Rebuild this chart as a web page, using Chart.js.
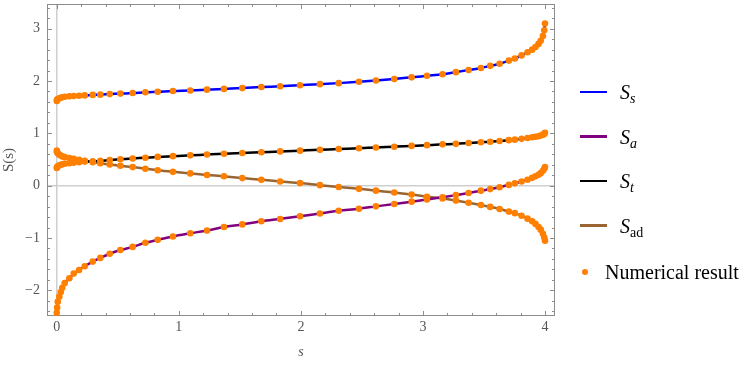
<!DOCTYPE html>
<html>
<head>
<meta charset="utf-8">
<script src="https://cdn.jsdelivr.net/npm/chart.js"></script>
<style>
  body { margin: 0; background: #fff; }
  #wrap { position: relative; width: 747px; height: 365px; }
  #legend { position: absolute; left: 0; top: 0; font-family: 'Liberation Serif', 'Times New Roman', serif; color: #000; }
  .row { position: absolute; left: 580px; height: 24px; display: flex; align-items: center; white-space: nowrap; }
  .swatch { display: inline-block; width: 27px; height: 2.5px; margin-right: 13px; }
  .dot { display: inline-block; width: 6px; height: 6px; border-radius: 50%; background: #ff8000; margin-left: 2px; margin-right: 17px; }
  .lbl { font-size: 20px; line-height: 24px; }
  .lbl sub { font-size: 14px; vertical-align: -4px; line-height: 0; }
</style>
</head>
<body>
<div id="wrap">
  <canvas id="myChart" width="747" height="365"></canvas>
  <div id="legend"></div>
</div>

<script>
    // grid of s values where the numerical results were evaluated
    const sGrid = [0, 0.003, 0.008, 0.021, 0.033, 0.045, 0.065, 0.103, 0.139, 0.183,
        0.229, 0.295, 0.357, 0.434, 0.521, 0.622, 0.726, 0.827, 0.952, 1.094,
        1.231, 1.37, 1.52, 1.676, 1.83, 1.993, 2.156, 2.31, 2.476, 2.615,
        2.765, 2.907, 3.033, 3.161, 3.27, 3.374, 3.475, 3.551, 3.628, 3.704,
        3.753, 3.808, 3.857, 3.895, 3.922, 3.947, 3.965, 3.983, 3.994, 4.0];

    // S_s (blue)
    const sS = [1.62, 1.64, 1.655, 1.67, 1.68, 1.69, 1.70, 1.71, 1.715, 1.72,
        1.725, 1.735, 1.74, 1.75, 1.76, 1.77, 1.785, 1.795, 1.81, 1.82,
        1.835, 1.85, 1.865, 1.885, 1.90, 1.92, 1.94, 1.96, 1.985, 2.01,
        2.04, 2.07, 2.10, 2.13, 2.17, 2.21, 2.25, 2.29, 2.33, 2.39,
        2.43, 2.49, 2.55, 2.60, 2.65, 2.71, 2.77, 2.86, 2.97, 3.10];

    // S_a (purple)
    const sA = [-2.43, -2.33, -2.22, -2.12, -2.03, -1.95, -1.86, -1.77, -1.68, -1.61,
        -1.54, -1.45, -1.38, -1.30, -1.23, -1.17, -1.09, -1.035, -0.97, -0.91,
        -0.855, -0.79, -0.74, -0.68, -0.635, -0.585, -0.53, -0.48, -0.44, -0.395,
        -0.35, -0.305, -0.265, -0.22, -0.18, -0.14, -0.095, -0.065, -0.03, 0.015,
        0.045, 0.08, 0.115, 0.15, 0.18, 0.21, 0.24, 0.285, 0.325, 0.355];

    // S_t (black)
    const sT = [0.34, 0.355, 0.37, 0.39, 0.40, 0.41, 0.42, 0.43, 0.44, 0.45,
        0.46, 0.465, 0.475, 0.49, 0.505, 0.52, 0.535, 0.55, 0.565, 0.58,
        0.595, 0.61, 0.625, 0.64, 0.655, 0.67, 0.685, 0.70, 0.715, 0.73,
        0.745, 0.76, 0.775, 0.79, 0.80, 0.815, 0.83, 0.84, 0.855, 0.87,
        0.88, 0.895, 0.91, 0.925, 0.935, 0.945, 0.96, 0.975, 0.99, 1.01];

    // S_ad (brown)
    const sAd = [0.67, 0.64, 0.62, 0.59, 0.575, 0.56, 0.545, 0.53, 0.515, 0.495,
        0.475, 0.45, 0.43, 0.405, 0.38, 0.355, 0.325, 0.295, 0.265, 0.235,
        0.205, 0.18, 0.145, 0.115, 0.08, 0.05, 0.01, -0.025, -0.06, -0.095,
        -0.13, -0.17, -0.21, -0.245, -0.285, -0.325, -0.37, -0.405, -0.445, -0.495,
        -0.525, -0.575, -0.63, -0.68, -0.73, -0.79, -0.84, -0.92, -0.99, -1.05];

    const xTickLabels = [0, 1, 2, 3, 4];
    const yTickLabels = [-2, -1, 0, 1, 2, 3];

    const curves = [
        { name: 'S', sub: 's', subItalic: true, color: '#0000ff', values: sS },
        { name: 'S', sub: 'a', subItalic: true, color: '#800080', values: sA },
        { name: 'S', sub: 't', subItalic: true, color: '#000000', values: sT },
        { name: 'S', sub: 'ad', subItalic: false, color: '#996633', values: sAd }
    ];

    const toPoints = ys => sGrid.map((x, i) => ({ x: x, y: ys[i] }));

    const datasets = curves.map(c => ({
        type: 'line',
        label: c.name + '_' + c.sub,
        data: toPoints(c.values),
        borderColor: c.color,
        borderWidth: 2.5,
        pointRadius: 0,
        fill: false,
        cubicInterpolationMode: 'monotone',
        order: 1
    }));

    // all numerical points in one dataset, drawn on top
    datasets.push({
        type: 'scatter',
        label: 'Numerical result',
        data: [].concat(...curves.map(c => toPoints(c.values))),
        backgroundColor: '#ff8000',
        borderWidth: 0,
        pointRadius: 3.3,
        order: 0
    });

    // Mathematica-like frame with inward ticks and zero axes
    const framePlugin = {
        id: 'frame',
        beforeDatasetsDraw(chart) {
            const { ctx, chartArea: a, scales: { x, y } } = chart;
            const seg = (x1, y1, x2, y2) => { ctx.beginPath(); ctx.moveTo(x1, y1); ctx.lineTo(x2, y2); ctx.stroke(); };
            ctx.save();
            ctx.strokeStyle = '#cfcfcf';
            ctx.lineWidth = 1.5;
            const x0 = x.getPixelForValue(0), y0 = y.getPixelForValue(0);
            seg(x0, a.top, x0, a.bottom);
            seg(a.left, y0, a.right, y0);

            ctx.strokeStyle = '#8c8c8c';
            ctx.lineWidth = 1;
            ctx.strokeRect(a.left + 0.5, a.top + 0.5, a.width - 1, a.height - 1);
            for (let k = Math.ceil(x.min * 5); k <= Math.floor(x.max * 5); k++) {
                const px = Math.round(x.getPixelForValue(k / 5)) + 0.5;
                const len = k % 5 === 0 ? 5 : 3;
                seg(px, a.bottom, px, a.bottom - len);
                seg(px, a.top, px, a.top + len);
            }
            for (let k = Math.ceil(y.min * 5); k <= Math.floor(y.max * 5); k++) {
                const py = Math.round(y.getPixelForValue(k / 5)) + 0.5;
                const len = k % 5 === 0 ? 5 : 3;
                seg(a.left, py, a.left + len, py);
                seg(a.right, py, a.right - len, py);
            }
            ctx.restore();
        }
    };

    const tickFont = { family: "'Liberation Serif', 'Times New Roman', serif", size: 14 };
    const fmt = v => (v < 0 ? '\u2212' + Math.abs(v) : String(v));

    const ctx = document.getElementById('myChart').getContext('2d');
    const myChart = new Chart(ctx, {
        data: { datasets: datasets },
        plugins: [framePlugin],
        options: {
            responsive: false,
            animation: false,
            layout: { padding: { top: 3, right: 192, left: 0, bottom: 0 } },
            plugins: { legend: { display: false }, tooltip: { enabled: false } },
            scales: {
                x: {
                    type: 'linear',
                    min: -0.08,
                    max: 4.082,
                    grid: { display: false, drawTicks: false },
                    border: { display: false },
                    afterBuildTicks: s => { s.ticks = xTickLabels.map(v => ({ value: v })); },
                    afterFit: s => { s.height = 49; s.paddingLeft = 0; s.paddingRight = 0; },
                    ticks: { color: '#555', font: tickFont, padding: 3, maxRotation: 0, callback: fmt },
                    title: { display: true, text: 's', color: '#555', padding: { top: 4 },
                        font: { family: tickFont.family, size: 14, style: 'italic' } }
                },
                y: {
                    type: 'linear',
                    min: -2.49,
                    max: 3.472,
                    grid: { display: false, drawTicks: false },
                    border: { display: false },
                    afterBuildTicks: s => { s.ticks = yTickLabels.map(v => ({ value: v })); },
                    afterFit: s => { s.width = 47; s.paddingTop = 0; s.paddingBottom = 0; },
                    ticks: { color: '#555', font: tickFont, padding: 7, callback: fmt },
                    title: { display: true, text: 'S(s)', color: '#555', padding: 0,
                        font: { family: tickFont.family, size: 15 } }
                }
            }
        }
    });

    // HTML legend so the subscripts stay real text
    const legend = document.getElementById('legend');
    const rowY = [92, 136.5, 181, 225.5, 271.5];
    curves.forEach((c, i) => {
        const row = document.createElement('div');
        row.className = 'row';
        row.style.top = (rowY[i] - 12) + 'px';
        const sub = c.subItalic ? '<i>' + c.sub + '</i>' : c.sub;
        row.innerHTML = '<span class="swatch" style="background:' + c.color + '"></span>' +
            '<span class="lbl"><i>' + c.name + '</i><sub>' + sub + '</sub></span>';
        legend.appendChild(row);
    });
    const numRow = document.createElement('div');
    numRow.className = 'row';
    numRow.style.top = (rowY[4] - 12) + 'px';
    numRow.innerHTML = '<span class="dot"></span><span class="lbl">Numerical result</span>';
    legend.appendChild(numRow);
</script>
</body>
</html>
